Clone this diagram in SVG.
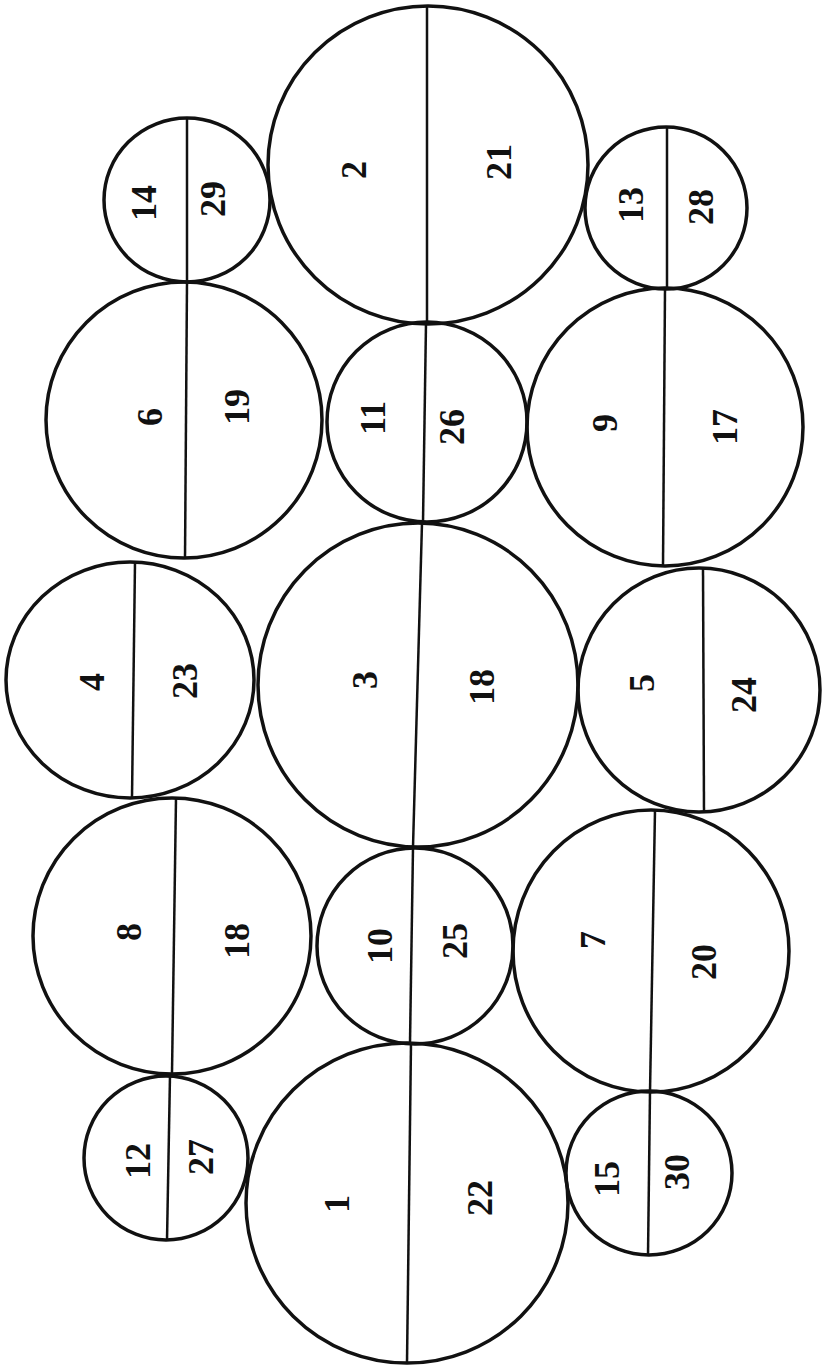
<svg xmlns="http://www.w3.org/2000/svg" width="822" height="1367" viewBox="0 0 822 1367">
<style>
.c{fill:none;stroke:#111;stroke-width:3.5}
.d{stroke:#111;stroke-width:2.5;fill:none}
.n{font-family:"Liberation Serif",serif;font-weight:bold;font-size:36px;fill:#111;text-anchor:middle;dominant-baseline:central}
</style>
<rect width="822" height="1367" fill="#fff"/>
<g id="connectors">
<line class="d" x1="187" y1="118" x2="187" y2="282"/>
<line class="d" x1="427" y1="6" x2="427" y2="323"/>
<line class="d" x1="667" y1="127" x2="667" y2="289"/>
<line class="d" x1="187" y1="282" x2="185" y2="559"/>
<line class="d" x1="426" y1="323" x2="423" y2="522"/>
<line class="d" x1="665" y1="289" x2="663" y2="566"/>
<line class="d" x1="135" y1="562" x2="132" y2="798"/>
<line class="d" x1="422" y1="523" x2="413" y2="847"/>
<line class="d" x1="703" y1="568" x2="704" y2="813"/>
<line class="d" x1="176" y1="798" x2="172" y2="1073"/>
<line class="d" x1="413" y1="848" x2="410" y2="1043"/>
<line class="d" x1="655" y1="810" x2="650" y2="1092"/>
<line class="d" x1="170" y1="1075" x2="167" y2="1240"/>
<line class="d" x1="411" y1="1043" x2="407" y2="1363"/>
<line class="d" x1="650" y1="1092" x2="648" y2="1255"/>
</g>
<g id="n14"><ellipse class="c" cx="187" cy="200" rx="83" ry="82"/><text class="n" transform="translate(144,203) rotate(-90)">14</text><text class="n" transform="translate(213,199) rotate(-90)">29</text></g>
<g id="n2"><ellipse class="c" cx="428" cy="165" rx="160" ry="159"/><text class="n" transform="translate(354,170) rotate(-90)">2</text><text class="n" transform="translate(499,162) rotate(-90)">21</text></g>
<g id="n13"><ellipse class="c" cx="666" cy="208" rx="81" ry="81"/><text class="n" transform="translate(631,205) rotate(-90)">13</text><text class="n" transform="translate(701,207) rotate(-90)">28</text></g>
<g id="n6"><ellipse class="c" cx="184" cy="420" rx="138" ry="138"/><text class="n" transform="translate(150,417) rotate(-90)">6</text><text class="n" transform="translate(237,407) rotate(-90)">19</text></g>
<g id="n11"><ellipse class="c" cx="427" cy="422" rx="100" ry="100"/><text class="n" transform="translate(373,418) rotate(-90)">11</text><text class="n" transform="translate(452,427) rotate(-90)">26</text></g>
<g id="n9"><ellipse class="c" cx="665" cy="427" rx="138" ry="139"/><text class="n" transform="translate(605,423) rotate(-90)">9</text><text class="n" transform="translate(725,427) rotate(-90)">17</text></g>
<g id="n4"><ellipse class="c" cx="130" cy="680" rx="124" ry="118"/><text class="n" transform="translate(92,682) rotate(-90)">4</text><text class="n" transform="translate(185,681) rotate(-90)">23</text></g>
<g id="n3"><ellipse class="c" cx="418" cy="685" rx="160" ry="162"/><text class="n" transform="translate(365,680) rotate(-90)">3</text><text class="n" transform="translate(482,687) rotate(-90)">18</text></g>
<g id="n5"><ellipse class="c" cx="699" cy="690" rx="121" ry="122"/><text class="n" transform="translate(642,683) rotate(-90)">5</text><text class="n" transform="translate(744,695) rotate(-90)">24</text></g>
<g id="n8"><ellipse class="c" cx="172" cy="936" rx="139" ry="138"/><text class="n" transform="translate(129,932) rotate(-90)">8</text><text class="n" transform="translate(237,941) rotate(-90)">18</text></g>
<g id="n10"><ellipse class="c" cx="415" cy="946" rx="98" ry="98"/><text class="n" transform="translate(380,946) rotate(-90)">10</text><text class="n" transform="translate(455,941) rotate(-90)">25</text></g>
<g id="n7"><ellipse class="c" cx="651" cy="951" rx="138" ry="141"/><text class="n" transform="translate(593,940) rotate(-90)">7</text><text class="n" transform="translate(704,962) rotate(-90)">20</text></g>
<g id="n12"><ellipse class="c" cx="166" cy="1158" rx="82" ry="82"/><text class="n" transform="translate(138,1161) rotate(-90)">12</text><text class="n" transform="translate(201,1157) rotate(-90)">27</text></g>
<g id="n1"><ellipse class="c" cx="407" cy="1203" rx="161" ry="160"/><text class="n" transform="translate(337,1204) rotate(-90)">1</text><text class="n" transform="translate(480,1198) rotate(-90)">22</text></g>
<g id="n15"><ellipse class="c" cx="649" cy="1173" rx="83" ry="82"/><text class="n" transform="translate(607,1179) rotate(-90)">15</text><text class="n" transform="translate(677,1172) rotate(-90)">30</text></g>
</svg>
